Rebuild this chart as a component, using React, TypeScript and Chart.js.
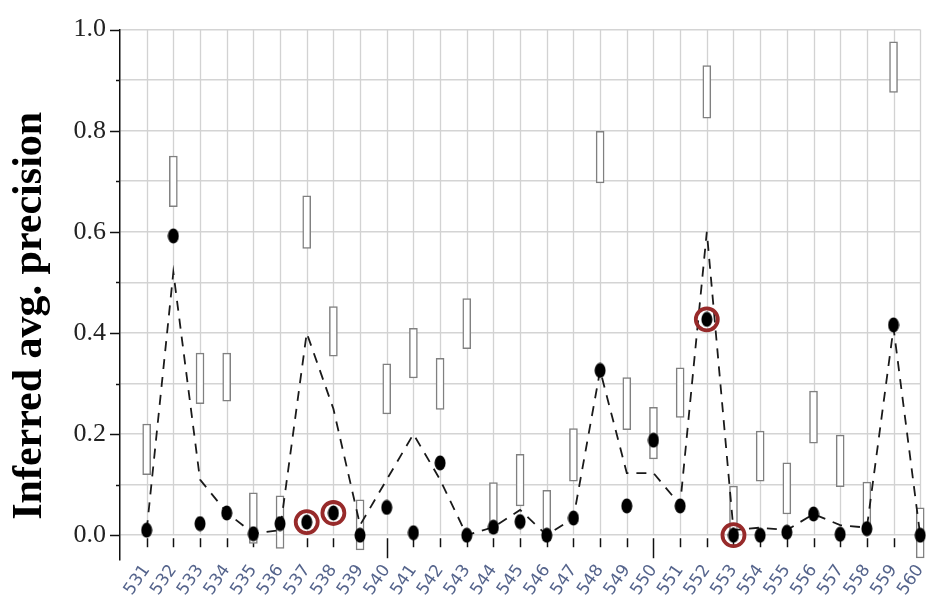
import React, { useEffect, useRef } from 'react';
import { Chart, registerables } from 'chart.js';

Chart.register(...registerables);

const categories = [531, 532, 533, 534, 535, 536, 537, 538, 539, 540, 541, 542, 543, 544, 545, 546, 547, 548, 549, 550, 551, 552, 553, 554, 555, 556, 557, 558, 559, 560];
const boxLow = [0.12, 0.65, 0.26, 0.265, -0.016, -0.026, 0.567, 0.354, -0.029, 0.24, 0.311, 0.249, 0.369, 0.004, 0.058, -0.011, 0.107, 0.697, 0.209, 0.151, 0.233, 0.825, -0.003, 0.107, 0.042, 0.182, 0.096, 0.005, 0.876, -0.045];
const boxHigh = [0.22, 0.75, 0.36, 0.36, 0.084, 0.078, 0.671, 0.452, 0.07, 0.339, 0.409, 0.35, 0.468, 0.104, 0.16, 0.089, 0.211, 0.799, 0.312, 0.253, 0.331, 0.929, 0.097, 0.206, 0.143, 0.285, 0.198, 0.105, 0.976, 0.054];
const dotValues = [0.01, 0.592, 0.023, 0.044, 0.003, 0.023, 0.026, 0.044, 0.0, 0.055, 0.005, 0.143, 0.0, 0.016, 0.027, 0.0, 0.034, 0.326, 0.058, 0.188, 0.058, 0.427, 0.0, 0.0, 0.006, 0.042, 0.002, 0.013, 0.416, 0.0];
const lineValues = [0.01, 0.52, 0.11, 0.045, 0.003, 0.01, 0.4, 0.25, 0.02, 0.11, 0.2, 0.11, 0.0, 0.016, 0.05, 0.0, 0.034, 0.326, 0.123, 0.123, 0.06, 0.6, 0.01, 0.015, 0.01, 0.042, 0.02, 0.015, 0.41, 0.0];
const circledCategories = [537, 538, 552, 553];
const yTickValues = [0, 0.1, 0.2, 0.3, 0.4, 0.5, 0.6, 0.7, 0.8, 0.9, 1.0];
const yTickLabels = ['0.0', '', '0.2', '', '0.4', '', '0.6', '', '0.8', '', '1.0'];
const majorXTicks = [540, 550];
const yTitle = 'Inferred avg. precision';

function makeDot(): HTMLCanvasElement {
  const c = document.createElement('canvas');
  c.width = 12;
  c.height = 16;
  const g = c.getContext('2d')!;
  g.fillStyle = '#000';
  g.beginPath();
  g.ellipse(6, 8, 5.5, 7.5, 0, 0, Math.PI * 2);
  g.fill();
  return c;
}

const gridPlugin = {
  id: 'customGrid',
  beforeDatasetsDraw(chart: any) {
    const { ctx, scales } = chart;
    const x = scales.x;
    const y = scales.y;
    const y0 = y.getPixelForValue(0);
    const y1 = y.getPixelForValue(1);
    ctx.save();
    ctx.strokeStyle = '#d2d2d2';
    ctx.lineWidth = 1.3;
    for (const c of categories) {
      const px = Math.round(x.getPixelForValue(c)) + 0.5;
      ctx.beginPath();
      ctx.moveTo(px, y1);
      ctx.lineTo(px, y0);
      ctx.stroke();
    }
    ctx.strokeStyle = '#111';
    ctx.lineWidth = 1.5;
    for (const c of categories) {
      const px = Math.round(x.getPixelForValue(c)) + 0.5;
      const len = majorXTicks.includes(c) ? 23 : 12;
      ctx.beginPath();
      ctx.moveTo(px, y0 + 3);
      ctx.lineTo(px, y0 + len);
      ctx.stroke();
    }
    yTickValues.forEach((v, i) => {
      const py = Math.round(y.getPixelForValue(v)) + 0.5;
      const len = yTickLabels[i] ? 10 : 4;
      ctx.beginPath();
      ctx.moveTo(x.left - len, py);
      ctx.lineTo(x.left, py);
      ctx.stroke();
    });
    ctx.restore();
  },
};

export default function App() {
  const ref = useRef<HTMLCanvasElement | null>(null);
  useEffect(() => {
    document.body.style.margin = '0';
    const canvas = ref.current;
    if (!canvas) return;
    const dot = makeDot();
    const chart = new Chart(canvas, {
      type: 'line',
      data: {
        datasets: [
          {
            type: 'line',
            data: circledCategories.map((c) => ({ x: c, y: dotValues[categories.indexOf(c)] })),
            showLine: false,
            pointStyle: 'circle',
            pointRadius: 11,
            pointBorderWidth: 3.8,
            pointBorderColor: '#972a2a',
            pointBackgroundColor: 'rgba(0,0,0,0)',
            clip: false,
            order: 1,
          },
          {
            type: 'line',
            data: categories.map((c, i) => ({ x: c, y: dotValues[i] })),
            showLine: false,
            pointStyle: dot,
            pointRadius: 6,
            clip: false,
            order: 2,
          },
          {
            type: 'line',
            data: categories.map((c, i) => ({ x: c, y: lineValues[i] })),
            borderColor: '#1a1a1a',
            borderWidth: 1.8,
            borderDash: [10, 8],
            pointRadius: 0,
            tension: 0,
            fill: false,
            clip: false,
            order: 3,
          },
          {
            type: 'bar',
            data: categories.map((c, i) => ({ x: c, y: [boxLow[i], boxHigh[i]] })),
            backgroundColor: '#ffffff',
            borderColor: '#808080',
            borderWidth: 1.5,
            borderSkipped: false,
            barThickness: 8,
            clip: false,
            order: 4,
          } as any,
        ],
      },
      options: {
        responsive: false,
        animation: false,
        devicePixelRatio: 1,
        layout: { padding: { top: 22, right: 5, left: 0, bottom: 0 } },
        plugins: { legend: { display: false }, tooltip: { enabled: false } },
        scales: {
          x: {
            type: 'linear',
            min: 530,
            max: 560,
            offset: false,
            afterBuildTicks: (scale: any) => {
              scale.ticks = categories.map((v) => ({ value: v }));
            },
            afterFit: (scale: any) => {
              scale.height = 45;
              scale.paddingRight = 0;
              scale.paddingLeft = 0;
            },
            grid: { display: true, drawOnChartArea: false, drawTicks: false, color: 'rgba(0,0,0,0)', offset: false },
            border: { display: false },
            ticks: {
              autoSkip: false,
              minRotation: 55,
              maxRotation: 55,
              padding: 1,
              color: '#55648c',
              font: { family: 'DejaVu Sans', size: 17 },
              callback: (v: any) => String(v),
            },
          },
          y: {
            type: 'linear',
            min: -0.049,
            max: 1,
            afterBuildTicks: (scale: any) => {
              scale.ticks = yTickValues.map((v) => ({ value: v }));
            },
            afterFit: (scale: any) => {
              scale.width = 120;
            },
            grid: { color: '#d4d4d4', lineWidth: 1.6, drawTicks: false },
            border: { display: true, color: '#111', width: 1.5 },
            ticks: {
              padding: 14,
              color: '#222',
              font: { family: 'Liberation Serif', size: 26 },
              callback: (_v: any, i: number) => yTickLabels[i],
            },
            title: {
              display: true,
              text: yTitle + '    ',
              color: '#000',
              padding: { top: 5, bottom: 0 },
              font: { family: 'Liberation Serif', size: 42, weight: 'bold' },
            },
          },
        },
      } as any,
      plugins: [gridPlugin],
    });
    return () => chart.destroy();
  }, []);
  return (
    <div style={{ width: 935, height: 605 }}>
      <canvas ref={ref} width={935} height={605} />
    </div>
  );
}
